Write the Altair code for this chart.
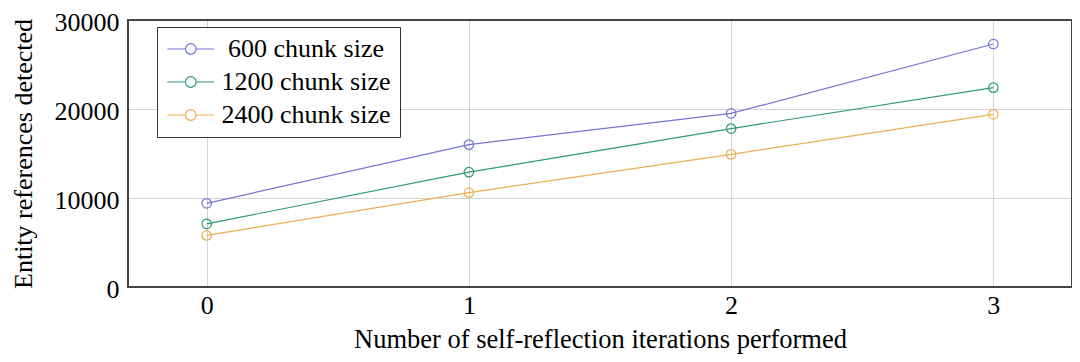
import altair as alt
import pandas as pd

iterations = [0, 1, 2, 3]
series_names = ["600 chunk size", "1200 chunk size", "2400 chunk size"]
values_600 = [9400, 16000, 19500, 27300]
values_1200 = [7100, 12900, 17800, 22400]
values_2400 = [5800, 10600, 14900, 19400]
colors = ["#7474d6", "#2f9b6e", "#efae52"]

rows = []
for name, vals in zip(series_names, [values_600, values_1200, values_2400]):
    for it, v in zip(iterations, vals):
        rows.append({"iter": it, "value": v, "series": name})
df = pd.DataFrame(rows)

FONT = "Liberation Serif"
r = 0.45
sym = (f"M-1,0L{1 - r},0M{1 + r},0L3,0M{1 + r},0"
       f"A{r},{r},0,1,1,{1 - r},0A{r},{r},0,1,1,{1 + r},0Z")

color = alt.Color(
    "series:N",
    scale=alt.Scale(domain=series_names, range=colors),
    legend=alt.Legend(
        title=None,
        orient="none",
        legendX=29,
        legendY=7,
        direction="vertical",
        symbolType=sym,
        symbolSize=552,
        symbolStrokeWidth=1.2,
        symbolFillColor="transparent",
        labelFont=FONT,
        labelFontSize=26,
        labelColor="black",
        labelLimit=400,
        labelAlign="center",
        labelOffset=114,
        rowPadding=7,
        padding=9,
        strokeColor="#333333",
        fillColor="white",
        offset=0,
    ),
)

base = alt.Chart(df).encode(
    x=alt.X(
        "iter:Q",
        scale=alt.Scale(domain=[-0.3, 3.3], nice=False, zero=False),
        axis=alt.Axis(
            values=iterations,
            format="d",
            title="Number of self-reflection iterations performed",
            titleFont=FONT,
            titleFontSize=26.5,
            titleFontWeight="normal",
            titleColor="black",
            titlePadding=8,
            labelFont=FONT,
            labelFontSize=26,
            labelColor="black",
            labelPadding=5,
            ticks=False,
            domain=False,
            gridColor="#d4d4d4",
            gridWidth=1,
        ),
    ),
    y=alt.Y(
        "value:Q",
        scale=alt.Scale(domain=[0, 30000], nice=False),
        axis=alt.Axis(
            values=[0, 10000, 20000, 30000],
            format="d",
            title="Entity references detected",
            titleFont=FONT,
            titleFontSize=26,
            titleFontWeight="normal",
            titleColor="black",
            titlePadding=18,
            labelFont=FONT,
            labelFontSize=26,
            labelColor="black",
            labelPadding=9,
            labelOffset=2,
            ticks=False,
            domain=False,
            gridColor="#d4d4d4",
            gridWidth=1,
        ),
    ),
    color=color,
)

frame = alt.Chart(df).mark_rect(fill=None, stroke="#444444", strokeWidth=1.2).encode(
    x=alt.value(0), x2=alt.value(944), y=alt.value(0), y2=alt.value(267)
)
lines = base.mark_line(strokeWidth=1.2)
points = base.mark_point(filled=False, size=90, strokeWidth=1.2, opacity=1)

chart = (
    alt.layer(lines, points, frame)
    .properties(
        width=944,
        height=267,
        autosize=alt.AutoSizeParams(type="none"),
        padding={"left": 120, "top": 12, "right": 0, "bottom": 70},
    )
    .configure_view(stroke="#444444", strokeWidth=1.2)
    .configure(background="white")
)

chart.save("out.html", embed_options={"renderer": "svg", "actions": False})
